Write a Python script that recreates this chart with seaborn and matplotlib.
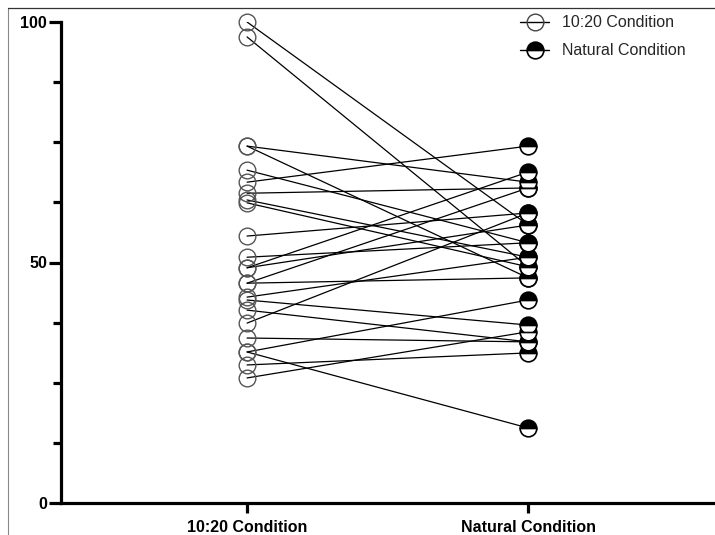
import numpy as np
import pandas as pd
import matplotlib as mpl
import matplotlib.pyplot as plt
from matplotlib.lines import Line2D
from matplotlib.ticker import MultipleLocator
import seaborn as sns

conditions = ["10:20 Condition", "Natural Condition"]
# paired scores per participant
cond_1020 = [100.0, 96.9, 74.2, 74.2, 69.2, 66.7, 64.4, 63.0, 62.4, 55.5, 51.1, 48.9,
             48.9, 45.7, 45.7, 42.8, 42.2, 40.1, 37.4, 34.3, 31.4, 31.4, 28.7, 26.0]
cond_natural = [57.8, 49.1, 66.7, 46.8, 54.1, 74.2, 65.5, 51.1, 49.1, 60.3, 54.1, 68.8,
                57.8, 46.8, 65.5, 51.1, 37.0, 33.5, 60.3, 33.5, 42.2, 15.6, 31.2, 35.6]

n = len(cond_1020)
df = pd.DataFrame({
    "subject": list(range(n)) * 2,
    "condition": [conditions[0]] * n + [conditions[1]] * n,
    "score": cond_1020 + cond_natural,
})

sns.set_style("ticks")
plt.rcParams["font.family"] = ["Liberation Sans", "DejaVu Sans"]

fig = plt.figure(figsize=(7.15, 5.35), dpi=100)
ax = fig.add_axes([61 / 715, 32 / 535, 1 - 61 / 715, 481 / 535])

sns.lineplot(data=df, x="condition", y="score", units="subject", estimator=None,
             color="black", linewidth=0.9, ax=ax, legend=False, zorder=2)

left = df[df.condition == conditions[0]]
right = df[df.condition == conditions[1]]
ax.plot(left["condition"], left["score"], "o", markersize=12, mfc="none",
        mec="#555555", mew=1.0, zorder=3, linestyle="none", clip_on=False)
ax.plot(right["condition"], right["score"], "o", markersize=12, fillstyle="top",
        mfc="black", mfcalt="white", mec="black", mew=1.2, zorder=3, linestyle="none",
        clip_on=False)

ax.set_xlim(-0.662, 1.665)
ax.set_ylim(0, 100)
ax.set_yticks([0, 50, 100])
ax.yaxis.set_minor_locator(MultipleLocator(12.5))
ax.set_xlabel("")
ax.set_ylabel("")
sns.despine(ax=ax)
for s in ["left", "bottom"]:
    ax.spines[s].set_linewidth(2.3)
    ax.spines[s].set_color("black")
ax.tick_params(axis="y", which="major", length=9, width=2.3, pad=1, labelsize=11.5,
               color="black", labelcolor="black")
ax.tick_params(axis="y", which="minor", length=6, width=2.3, color="black")
ax.tick_params(axis="x", which="major", length=7, width=2.3, pad=5, labelsize=11.5,
               color="black", labelcolor="black")
for lab in ax.get_xticklabels() + ax.get_yticklabels():
    lab.set_fontweight("bold")

handles = [
    Line2D([0], [0], color="black", lw=1, marker="o", markersize=12, mfc="none",
           mec="#444444", mew=1.0),
    Line2D([0], [0], color="black", lw=1, marker="o", markersize=12, fillstyle="top",
           mfc="black", mfcalt="white", mec="black", mew=1.2),
]
fig.legend(handles, conditions, loc="upper left", bbox_to_anchor=(506 / 715, 1 - 1 / 535),
           frameon=False, fontsize=11.5, handlelength=1.8, handletextpad=0.8,
           labelspacing=0.8)

# thin frame of the screenshot
fig.add_artist(Line2D([8 / 715, 8 / 715], [0, 1 - 8 / 535], color="#888888", lw=0.8,
                      transform=fig.transFigure))
fig.add_artist(Line2D([8 / 715, 1], [1 - 8 / 535, 1 - 8 / 535], color="#333333", lw=0.9,
                      transform=fig.transFigure))

fig.savefig("out.png", dpi=100)
